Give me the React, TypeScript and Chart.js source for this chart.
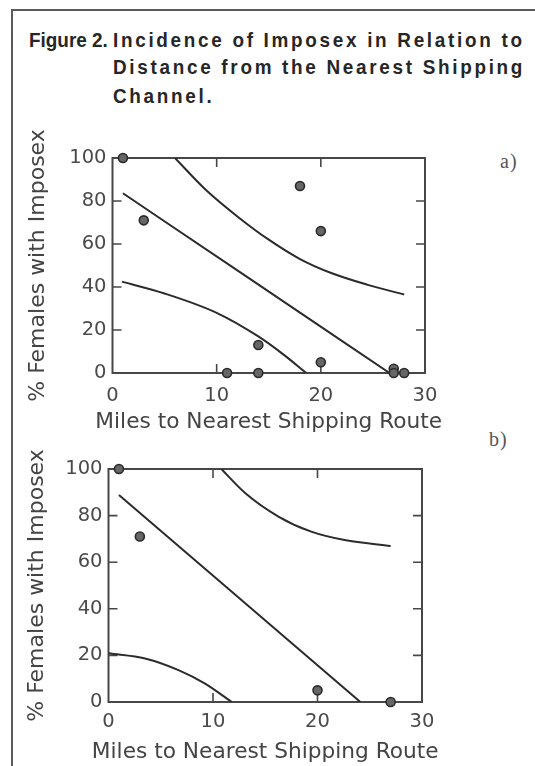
import React, { useEffect, useRef } from 'react';
import { Chart, registerables } from 'chart.js';

Chart.register(...registerables);

// ---- shared axis ticks ----
const xTickValues = [0, 10, 20, 30];
const yTickValues = [0, 20, 40, 60, 80, 100];
const xAxisTitle = 'Miles to Nearest Shipping Route';
const yAxisTitle = '% Females with Imposex';

// ---- panel a) ----
const aPointsX = [1, 3, 18, 20, 14, 20, 11, 14, 27, 27, 28];
const aPointsY = [100, 71, 87, 66, 13, 5, 0, 0, 2, 0, 0];
const aFitX = [1, 12.2, 26.6];
const aFitY = [83.6, 47, 0];
const aUpperX = [6, 9, 12.2, 15, 18, 21, 24.5, 28];
const aUpperY = [100, 85, 72, 62, 53, 46.5, 41, 36.5];
const aLowerX = [0.9, 5, 10, 14, 16.3, 18.6];
const aLowerY = [42.5, 37, 28, 17, 9, 0];

// ---- panel b) ----
const bPointsX = [1, 3, 20, 27];
const bPointsY = [100, 71, 5, 0];
const bFitX = [1, 24.1];
const bFitY = [88.8, 0];
const bUpperX = [10.8, 13.1, 16.3, 19.4, 22.6, 27];
const bUpperY = [100, 89.6, 79.5, 73.1, 69.5, 67];
const bLowerX = [0, 3.5, 6.7, 9.2, 11.8];
const bLowerY = [20.9, 18.7, 13.7, 8, 0];

const pts = (xs: number[], ys: number[]) => xs.map((x, i) => ({ x, y: ys[i] }));

const framePlugin = {
  id: 'frameTicks',
  beforeDatasetsDraw(chart: any) {
    const { ctx, chartArea, scales } = chart;
    const { left, right, top, bottom } = chartArea;
    const xs = scales.x;
    const ys = scales.y;
    ctx.save();
    ctx.strokeStyle = '#474747';
    ctx.lineWidth = 2;
    ctx.strokeRect(left, top, right - left, bottom - top);
    ctx.lineWidth = 1.6;
    const tl = 9;
    ctx.beginPath();
    xs.ticks.forEach((t: any) => {
      if (t.value <= xs.min || t.value >= xs.max) return;
      const px = xs.getPixelForValue(t.value);
      ctx.moveTo(px, bottom);
      ctx.lineTo(px, bottom - tl);
      ctx.moveTo(px, top);
      ctx.lineTo(px, top + tl);
    });
    ys.ticks.forEach((t: any) => {
      if (t.value <= ys.min || t.value >= ys.max) return;
      const py = ys.getPixelForValue(t.value);
      ctx.moveTo(left, py);
      ctx.lineTo(left + tl, py);
      ctx.moveTo(right, py);
      ctx.lineTo(right - tl, py);
    });
    ctx.stroke();
    ctx.restore();
  },
};

// x-axis title drawn without Chart.js' maxWidth squeeze
const xTitlePlugin = {
  id: 'xTitle',
  afterDraw(chart: any, _args: any, opts: any) {
    const { ctx, chartArea } = chart;
    ctx.save();
    ctx.font = `${opts.size}px "DejaVu Sans", sans-serif`;
    ctx.fillStyle = '#444';
    ctx.textAlign = 'center';
    ctx.textBaseline = 'middle';
    ctx.fillText(opts.text, (chartArea.left + chartArea.right) / 2, chartArea.bottom + opts.offset);
    ctx.restore();
  },
};

type Panel = {
  px: number[]; py: number[];
  fx: number[]; fy: number[];
  ux: number[]; uy: number[];
  lx: number[]; ly: number[];
  pad: { top: number; right: number };
  yWidth: number;
  xHeight: number;
  xTickPad: number;
  xTitleOffset: number;
  yTitlePadTop: number;
};

const lineDs = (xs: number[], ys: number[]) => ({
  type: 'scatter' as const,
  data: pts(xs, ys),
  showLine: true,
  pointRadius: 0,
  pointHoverRadius: 0,
  borderColor: '#2b2b2b',
  borderWidth: 2,
  tension: 0.4,
  cubicInterpolationMode: 'monotone' as const,
  fill: false,
});

function makeConfig(p: Panel): any {
  const tickFont = { family: '"DejaVu Sans", sans-serif', size: 19.5 };
  const yTitleFont = { family: '"DejaVu Sans", sans-serif', size: 22 };
  return {
    type: 'scatter',
    data: {
      datasets: [
        {
          data: pts(p.px, p.py),
          pointRadius: 4.5,
          pointHoverRadius: 4.5,
          backgroundColor: '#666666',
          borderColor: '#2a2a2a',
          borderWidth: 1.6,
          clip: false,
        },
        lineDs(p.fx, p.fy),
        lineDs(p.ux, p.uy),
        lineDs(p.lx, p.ly),
      ],
    },
    options: {
      responsive: false,
      animation: false,
      devicePixelRatio: 1,
      layout: { padding: { top: p.pad.top, right: p.pad.right, left: 0, bottom: 0 } },
      plugins: {
        legend: { display: false },
        tooltip: { enabled: false },
        xTitle: { text: xAxisTitle, size: 21.7, offset: p.xTitleOffset },
      },
      scales: {
        x: {
          type: 'linear',
          min: 0,
          max: 30,
          afterBuildTicks: (s: any) => { s.ticks = xTickValues.map((v) => ({ value: v })); },
          afterFit: (s: any) => { s.height = p.xHeight; },
          grid: { display: false, drawTicks: false },
          border: { display: false },
          ticks: { font: tickFont, color: '#4a4a4a', padding: p.xTickPad, maxRotation: 0 },
          title: { display: false },
        },
        y: {
          type: 'linear',
          min: 0,
          max: 100,
          afterBuildTicks: (s: any) => { s.ticks = yTickValues.map((v) => ({ value: v })); },
          afterFit: (s: any) => { s.width = p.yWidth; },
          grid: { display: false, drawTicks: false },
          border: { display: false },
          ticks: { font: tickFont, color: '#4a4a4a', padding: 6 },
          title: {
            display: true,
            text: yAxisTitle,
            font: yTitleFont,
            color: '#444',
            padding: { top: p.yTitlePadTop, bottom: 0 },
          },
        },
      },
    },
    plugins: [framePlugin, xTitlePlugin],
  };
}

const panelA: Panel = {
  px: aPointsX, py: aPointsY, fx: aFitX, fy: aFitY,
  ux: aUpperX, uy: aUpperY, lx: aLowerX, ly: aLowerY,
  pad: { top: 48, right: 110 },
  yWidth: 112.5,
  xHeight: 67,
  xTickPad: 11,
  xTitleOffset: 49,
  yTitlePadTop: 25,
};

const panelB: Panel = {
  px: bPointsX, py: bPointsY, fx: bFitX, fy: bFitY,
  ux: bUpperX, uy: bUpperY, lx: bLowerX, ly: bLowerY,
  pad: { top: 29, right: 113 },
  yWidth: 108.5,
  xHeight: 64,
  xTickPad: 8,
  xTitleOffset: 50.5,
  yTitlePadTop: 23.8,
};

const titleStyle: React.CSSProperties = {
  position: 'absolute',
  fontFamily: '"Liberation Sans", Arial, sans-serif',
  fontWeight: 'bold',
  fontSize: 21,
  color: '#262626',
  whiteSpace: 'nowrap',
  transform: 'scaleX(0.9)',
  transformOrigin: 'left top',
  lineHeight: '24px',
};

export default function App() {
  const refA = useRef<HTMLCanvasElement>(null);
  const refB = useRef<HTMLCanvasElement>(null);

  useEffect(() => {
    const ca = new Chart(refA.current as HTMLCanvasElement, makeConfig(panelA));
    const cb = new Chart(refB.current as HTMLCanvasElement, makeConfig(panelB));
    return () => {
      ca.destroy();
      cb.destroy();
    };
  }, []);

  return (
    <div
      style={{
        position: 'absolute',
        left: 0,
        top: 0,
        width: 535,
        height: 766,
        background: '#ffffff',
        overflow: 'hidden',
      }}
    >
      {/* figure frame */}
      <div style={{ position: 'absolute', left: 11, top: 9, width: 530, height: 0, borderTop: '2px solid #5a5a5a' }} />
      <div style={{ position: 'absolute', left: 11, top: 9, width: 0, height: 770, borderLeft: '2px solid #5a5a5a' }} />

      {/* caption */}
      <div style={{ ...titleStyle, left: 29, top: 28 }}>Figure 2.</div>
      <div style={{ ...titleStyle, left: 113, top: 28, letterSpacing: '3px' }}>Incidence of Imposex in Relation to</div>
      <div style={{ ...titleStyle, left: 113, top: 55, letterSpacing: '3px' }}>Distance from the Nearest Shipping</div>
      <div style={{ ...titleStyle, left: 113, top: 84, letterSpacing: '3px' }}>Channel.</div>

      {/* panel labels */}
      <div style={{ position: 'absolute', left: 500, top: 150, fontFamily: '"Liberation Serif", serif', fontSize: 20, color: '#555', letterSpacing: '1px' }}>a)</div>
      <div style={{ position: 'absolute', left: 489, top: 428, fontFamily: '"Liberation Serif", serif', fontSize: 20, color: '#555', letterSpacing: '1px' }}>b)</div>

      <canvas ref={refA} width={535} height={330} style={{ position: 'absolute', left: 0, top: 110 }} />
      <canvas ref={refB} width={535} height={326} style={{ position: 'absolute', left: 0, top: 440 }} />
    </div>
  );
}
